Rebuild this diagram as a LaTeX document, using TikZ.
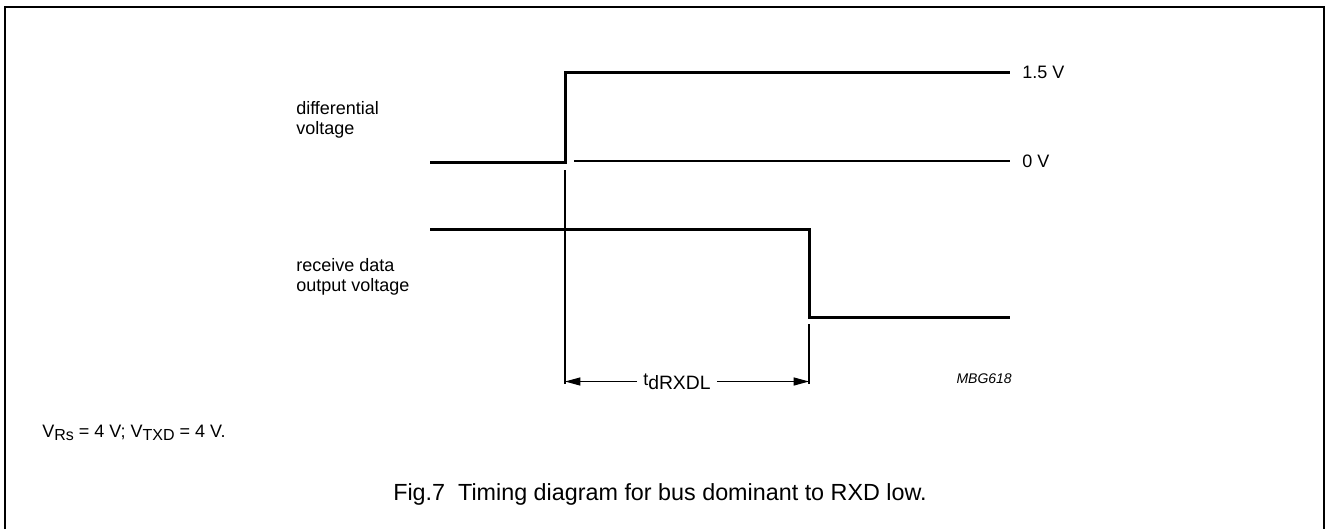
\documentclass[tikz,border=0pt]{standalone}
\usepackage{fontspec}
\setmainfont{Liberation Sans}
\usetikzlibrary{arrows.meta}
\newcommand{\lowsub}[3]{\raisebox{-#1}{\fontsize{#2}{#2}\selectfont #3}}
\begin{document}
\begin{tikzpicture}[x=0.75pt,y=-0.75pt,
  sig/.style={line width=2.25pt, line cap=butt, line join=miter},
  thinln/.style={line width=0.9pt},
  lbl/.style={inner sep=0pt, font=\fontsize{13.5}{15}\selectfont},
  dim/.style={thinln, -{Triangle[length=11.5pt,width=6pt]}},
]
\useasboundingbox (0,0) rectangle (1326,529);
% frame (open at the bottom)
\draw[line width=1.6pt] (5,529) -- (5,7) -- (1324,7) -- (1324,529);

% differential voltage
\coordinate (d0) at (430,162);
\coordinate (d1) at (565,162);
\coordinate (d2) at (565,72);
\coordinate (d3) at (1010,72);
\draw[sig] (d0) -- (d1) -- (d2) -- (d3);
\coordinate (z0) at (574,161);
\coordinate (z1) at (1010,161);
\draw[thinln] (z0) -- (z1);

% receive data output voltage
\coordinate (r0) at (430,229);
\coordinate (r1) at (809,229);
\coordinate (r2) at (809,317.5);
\coordinate (r3) at (1010,317.5);
\draw[sig] (r0) -- (r1) -- (r2) -- (r3);

% reference verticals
\coordinate (vLt) at (565,170);
\coordinate (vLb) at (565,384);
\coordinate (vRt) at (809,324);
\coordinate (vRb) at (809,384);
\draw[thinln] (vLt) -- (vLb);
\draw[thinln] (vRt) -- (vRb);

% dimension
\coordinate (L) at (565,381.5);
\coordinate (R) at (809,381.5);
\node[lbl, inner xsep=4.5pt, anchor=base west] (td) at (637,385)
  {t\lowsub{3.6pt}{14.5}{dRXDL}};
\draw[dim] (td.west |- L) -- (L);
\draw[dim] (td.east |- R) -- (R);

% labels
\node[lbl, anchor=base west] (l15) at (1022,78.5) {1.5 V};
\node[lbl, anchor=base west] (l0) at (1022,167.5) {0 V};
\node[lbl, anchor=base west] (dv1) at (296,114) {differential};
\node[lbl, anchor=base west] (dv2) at (296,134) {voltage};
\node[lbl, anchor=base west] (rd1) at (296,271) {receive data};
\node[lbl, anchor=base west] (rd2) at (296,291) {output voltage};
\node[inner sep=0pt, anchor=base east, font=\fontsize{10.5}{12}\selectfont\itshape] (code) at (1012,383) {MBG618};
\node[lbl, anchor=base west] (cond) at (42,437)
  {V\lowsub{2.6pt}{12}{Rs} = 4 V; V\lowsub{2.6pt}{12}{TXD} = 4 V.};
\node[inner sep=0pt, anchor=base, font=\fontsize{17.5}{20}\selectfont] (cap) at (660,500)
  {Fig.7\ \ Timing diagram for bus dominant to RXD low.};
\end{tikzpicture}
\end{document}
